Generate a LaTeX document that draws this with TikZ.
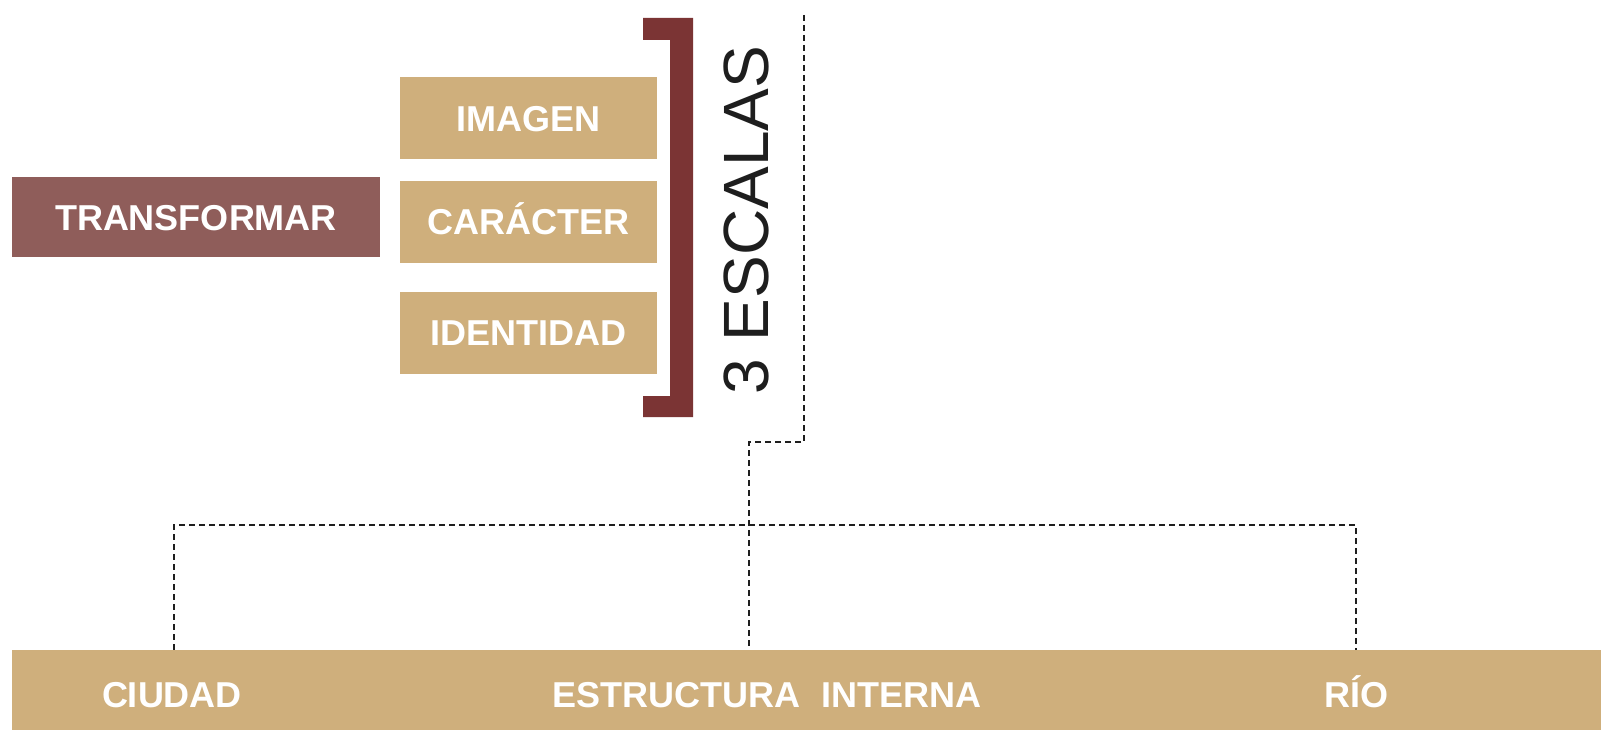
\documentclass[tikz,border=0pt]{standalone}
\usepackage{fontspec}
\setmainfont{Liberation Sans}
\definecolor{tan}{RGB}{207,175,124}
\definecolor{rosewood}{RGB}{143,93,90}
\definecolor{maroon}{RGB}{123,52,52}
\definecolor{ink}{RGB}{30,30,30}
\tikzset{
  tanbox/.style={fill=tan, inner sep=0pt, minimum width=257pt, minimum height=82pt},
  lbl/.style={text=white, font=\fontsize{36}{36}\selectfont\bfseries, inner sep=0pt, anchor=base},
  dashline/.style={draw=ink, line width=1.7pt, dash pattern=on 6pt off 4pt},
}
\begin{document}
\begin{tikzpicture}[x=1pt,y=-1pt]
\useasboundingbox (0,0) rectangle (1601,730);
\fill[white] (0,0) rectangle (1601,730);

% left box
\node[fill=rosewood, inner sep=0pt, minimum width=368pt, minimum height=80pt] (transf) at (196,217) {};
\node[lbl] at ([yshift=-13pt]transf.center) {TRANSFORMAR};

% tan boxes
\node[tanbox] (imagen) at (528.5,118.5) {};
\node[lbl] at ([yshift=-13pt]imagen.center) {IMAGEN};
\node[tanbox] (caracter) at (528.5,222) {};
\node[lbl] at ([yshift=-13pt]caracter.center) {CARÁCTER};
\node[tanbox] (identidad) at (528.5,332.5) {};
\node[lbl] at ([yshift=-13pt]identidad.center) {IDENTIDAD};

% bracket
\fill[maroon] (643,18) -- (693,18) -- (693,417) -- (643,417) -- (643,396) -- (670,396) -- (670,40) -- (643,40) -- cycle;

% rotated title
\node[rotate=90, text=ink, font=\fontsize{64}{64}\selectfont, inner sep=0pt] (escalas) at (746,220) {3 ESCALAS};

% bottom band
\node[fill=tan, inner sep=0pt, minimum width=1589pt, minimum height=80pt] (band) at (806.5,690) {};
\node[lbl] (ciudad) at (172,707) {CIUDAD};
\node[lbl] (estructura) at (767,707) {ESTRUCTURA\hspace{0.6em}INTERNA};
\node[lbl] (rio) at (1356,707) {RÍO};

% connectors
\coordinate (top) at (804,15);
\coordinate (k1) at (804,442);
\coordinate (k2) at (749,442);
\coordinate (hl) at (174,525);
\coordinate (hr) at (1356,525);
\draw[dashline] (top) -- (k1) -- (k2) -- (k2 |- band.north);
\draw[dashline] (hl |- band.north) -- (hl) -- (hr) -- (hr |- band.north);
\end{tikzpicture}
\end{document}
